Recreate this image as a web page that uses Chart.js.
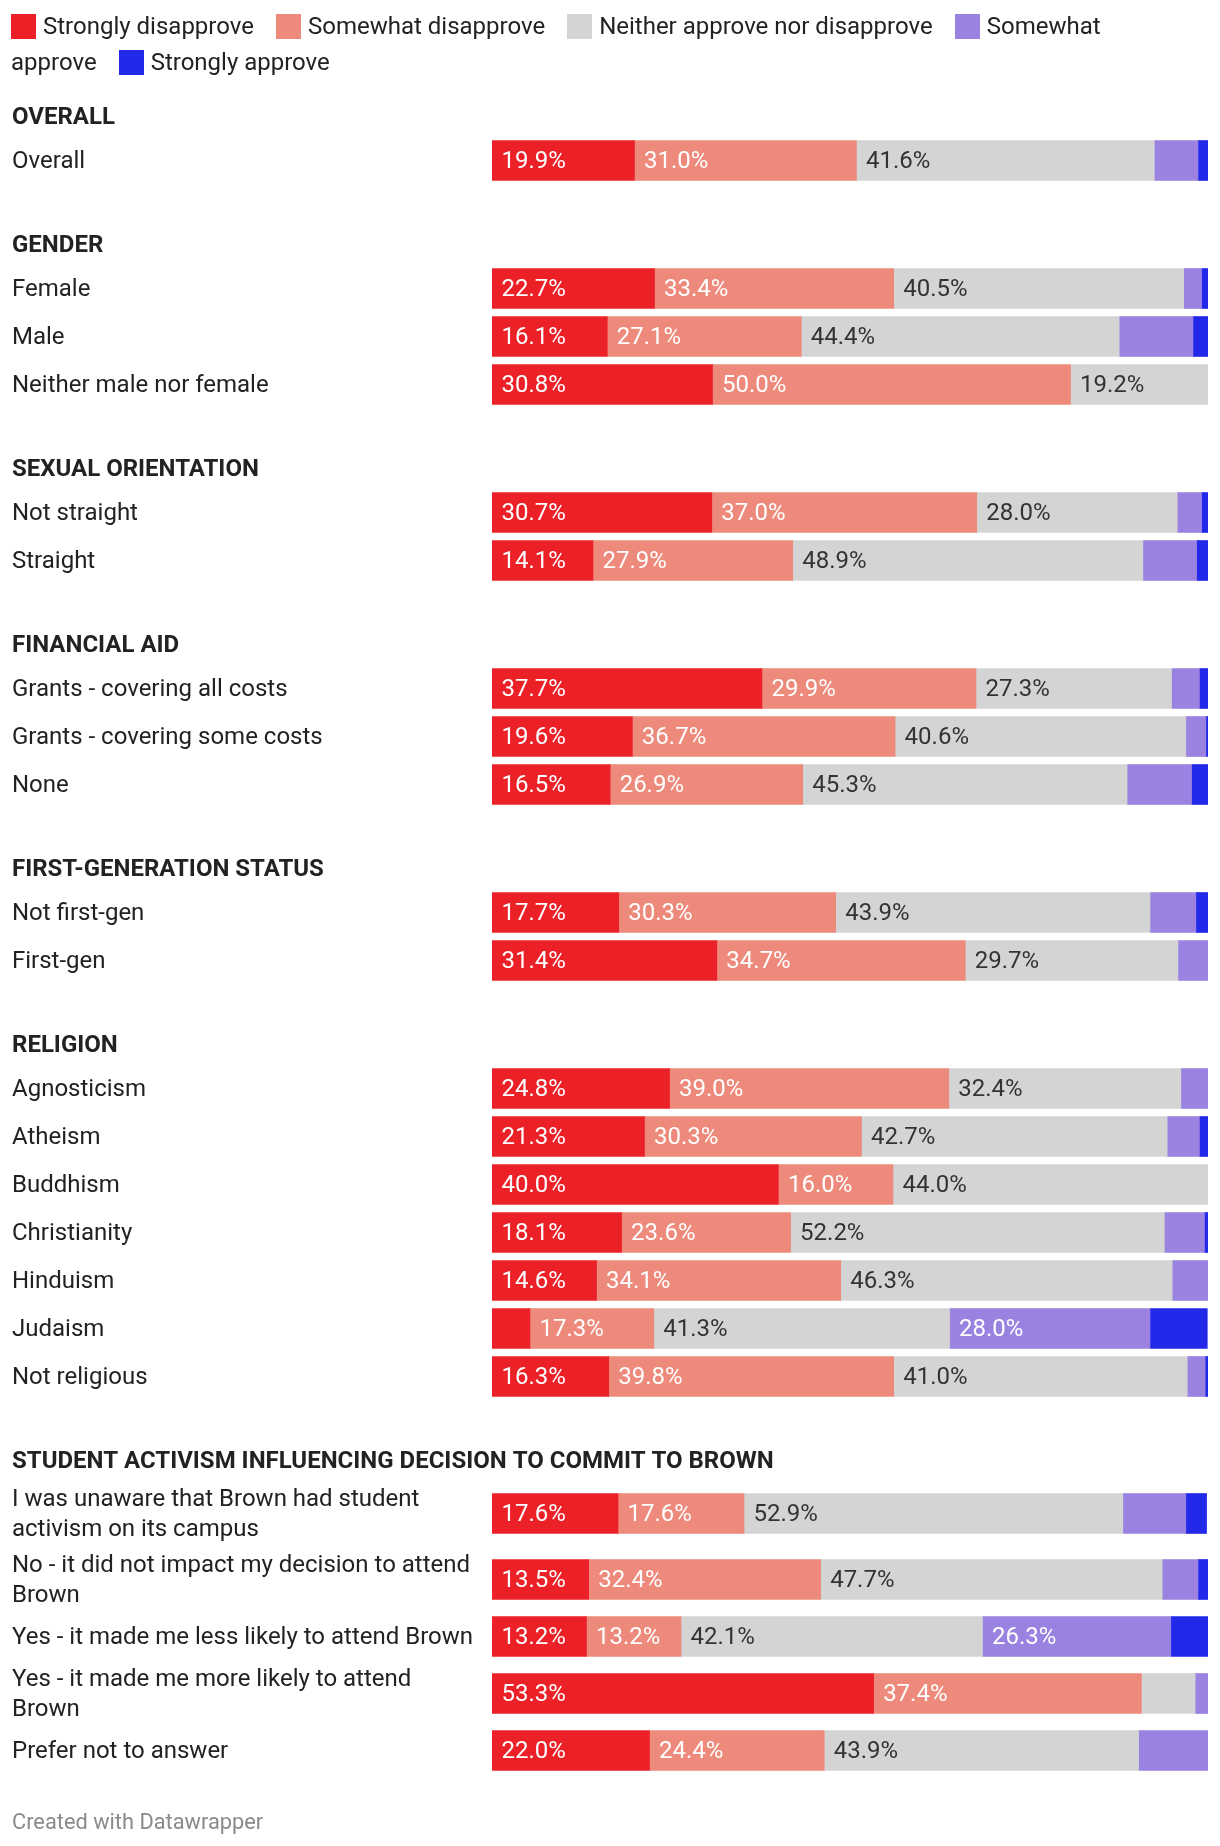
<!DOCTYPE html>
<html><head><meta charset="utf-8">
<script src="https://cdn.jsdelivr.net/npm/chart.js@4"></script>
<style>
html,body{margin:0;padding:0;background:#fff;}
body{width:1220px;height:1846px;position:relative;font-family:Roboto,sans-serif;overflow:hidden;}
#wrap{position:absolute;left:0;top:0;width:1220px;height:1846px;}
#legend{position:absolute;left:11px;top:8px;width:1120px;font-size:24px;line-height:36px;color:#222;}
#legend .item{margin-right:22px;}
#legend .sw{display:inline-block;width:25px;height:25px;vertical-align:-5px;margin-right:7px;}
#footer{position:absolute;left:12px;top:1809px;font-size:21.8px;color:#8a8a8a;}
</style></head>
<body>
<div id="wrap"><canvas id="c" width="1220" height="1846"></canvas></div>
<div id="legend"></div>
<div id="footer">Created with Datawrapper</div>
<script>
const seriesNames = ['Strongly disapprove','Somewhat disapprove','Neither approve nor disapprove','Somewhat approve','Strongly approve'];
const groups = ['OVERALL','GENDER','SEXUAL ORIENTATION','FINANCIAL AID','FIRST-GENERATION STATUS','RELIGION','STUDENT ACTIVISM INFLUENCING DECISION TO COMMIT TO BROWN'];
const categories = [
  'Overall',
  'Female','Male','Neither male nor female',
  'Not straight','Straight',
  'Grants - covering all costs','Grants - covering some costs','None',
  'Not first-gen','First-gen',
  'Agnosticism','Atheism','Buddhism','Christianity','Hinduism','Judaism','Not religious',
  ['I was unaware that Brown had student','activism on its campus'],
  ['No - it did not impact my decision to attend','Brown'],
  'Yes - it made me less likely to attend Brown',
  ['Yes - it made me more likely to attend','Brown'],
  'Prefer not to answer'
];
const categoryGroup = [0,1,1,1,2,2,3,3,3,4,4,5,5,5,5,5,5,5,6,6,6,6,6];
const stronglyDisapprove    = [19.9,22.7,16.1,30.8,30.7,14.1,37.7,19.6,16.5,17.7,31.4,24.8,21.3,40.0,18.1,14.6,5.3,16.3,17.6,13.5,13.2,53.3,22.0];
const somewhatDisapprove    = [31.0,33.4,27.1,50.0,37.0,27.9,29.9,36.7,26.9,30.3,34.7,39.0,30.3,16.0,23.6,34.1,17.3,39.8,17.6,32.4,13.2,37.4,24.4];
const neither               = [41.6,40.5,44.4,19.2,28.0,48.9,27.3,40.6,45.3,43.9,29.7,32.4,42.7,44.0,52.2,46.3,41.3,41.0,52.9,47.7,42.1,7.5,43.9];
const somewhatApprove       = [6.1,2.5,10.3,0,3.4,7.5,3.9,2.8,9.0,6.4,4.2,3.8,4.5,0,5.6,5.0,28.0,2.5,8.8,5.0,26.3,1.9,9.8];
const stronglyApprove       = [1.4,0.9,2.1,0,0.9,1.6,1.2,0.3,2.3,1.7,0,0,1.2,0,0.5,0,8.0,0.4,2.9,1.4,5.3,0,0];

const seriesValues = [stronglyDisapprove, somewhatDisapprove, neither, somewhatApprove, stronglyApprove];
const seriesColors = ['#ec2127','#ee8a7b','#d4d4d4','#9a82e1','#2229e9'];
const labelColors = ['#fff','#fff','#333','#fff','#fff'];

// legend
const legend = document.getElementById('legend');
seriesNames.forEach((n,i)=>{
  const it = document.createElement('span'); it.className='item';
  const sw = document.createElement('span'); sw.className='sw'; sw.style.background = seriesColors[i];
  it.appendChild(sw); it.appendChild(document.createTextNode(n));
  legend.appendChild(it);
});

// layout rules (pixel rows)
const H = 1846;
const FIRST_HEADER = 117, HEADER_TO_ROW = 43.5, ROW_PITCH = 48, TWO_LINE_PITCH = 66, ROW_TO_HEADER = 84.5;
const rowPos = [];
const tickInfo = new Map();
let lastCenter = null, prevH = 48;
groups.forEach((g, gi) => {
  const headerY = gi === 0 ? FIRST_HEADER : lastCenter + prevH/2 - 24 + ROW_TO_HEADER;
  tickInfo.set(headerY, {label: g, bold: true});
  let center = null;
  categories.forEach((c, i) => {
    if (categoryGroup[i] !== gi) return;
    const h = Array.isArray(c) ? TWO_LINE_PITCH : ROW_PITCH;
    center = center === null ? headerY + HEADER_TO_ROW + (h - 48)/2 : center + (prevH + h)/2;
    rowPos[i] = center; prevH = h;
    tickInfo.set(center, {label: c, bold: false});
  });
  lastCenter = center;
});

const datasets = seriesNames.map((n, k) => ({
  label: n,
  data: categories.map((c, i) => ({x: seriesValues[k][i], y: rowPos[i]})),
  backgroundColor: seriesColors[k],
  borderWidth: 0,
  barThickness: 40
}));

const valueLabels = {
  id: 'valueLabels',
  afterDatasetsDraw(chart) {
    const ctx = chart.ctx; ctx.save();
    ctx.font = '24px Roboto'; ctx.textBaseline = 'middle'; ctx.textAlign = 'left';
    chart.data.datasets.forEach((ds, di) => {
      const meta = chart.getDatasetMeta(di);
      meta.data.forEach((bar, i) => {
        const v = ds.data[i].x;
        if (v < 12) return;
        ctx.fillStyle = labelColors[di];
        ctx.fillText(v.toFixed(1) + '%', Math.min(bar.base, bar.x) + 9.5, bar.y + 1);
      });
    });
    ctx.restore();
  }
};

const rowLabels = {
  id: 'rowLabels',
  afterDraw(chart) {
    const ctx = chart.ctx; const ys = chart.scales.y;
    ctx.save(); ctx.textAlign = 'left'; ctx.textBaseline = 'middle'; ctx.fillStyle = '#222';
    tickInfo.forEach((t, v) => {
      const py = ys.getPixelForValue(v);
      ctx.font = (t.bold ? 'bold 24px' : '24px') + ' Roboto';
      const lines = Array.isArray(t.label) ? t.label : [t.label];
      lines.forEach((ln, j) => ctx.fillText(ln, 12, py + (j - (lines.length - 1)/2) * 30 + 1));
    });
    ctx.restore();
  }
};

new Chart(document.getElementById('c'), {
  type: 'bar',
  data: { datasets },
  plugins: [valueLabels, rowLabels],
  options: {
    indexAxis: 'y',
    responsive: false,
    maintainAspectRatio: false,
    animation: false,
    layout: { padding: { left: 492, right: 12, top: 0, bottom: 0 } },
    plugins: { legend: { display: false }, tooltip: { enabled: false } },
    scales: {
      x: { type: 'linear', min: 0, max: 100, stacked: true, display: false },
      y: { type: 'linear', min: 0, max: H, reverse: true, stacked: true, display: false,
           offset: false, bounds: 'data', grace: 0, grid: { offset: false } }
    }
  }
});
</script>
</body></html>
